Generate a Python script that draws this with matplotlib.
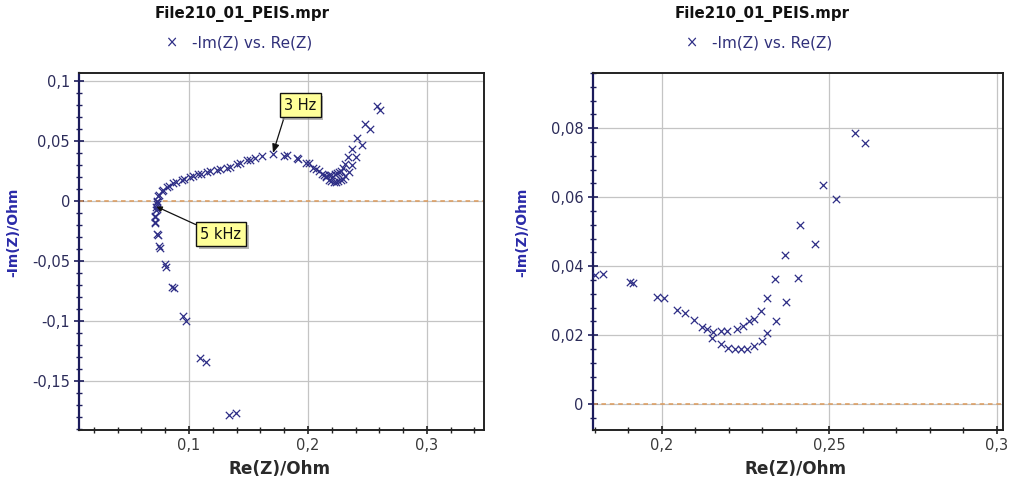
import matplotlib
matplotlib.use("Agg")
import matplotlib.pyplot as plt
from matplotlib.ticker import MultipleLocator, FuncFormatter
import matplotlib.patheffects as pe

# ---- impedance data: Re(Z) / -Im(Z) in Ohm ----
# high-frequency (inductive) tail
re_hf = [0.1395, 0.1339, 0.1143, 0.1092, 0.0972, 0.0952, 0.0874, 0.0857,
         0.0807, 0.0798, 0.0756, 0.0751, 0.0734, 0.0738, 0.0714, 0.0716,
         0.0714, 0.0718, 0.0729, 0.0727, 0.0727, 0.0731]
im_hf = [-0.1767, -0.1781, -0.1340, -0.1312, -0.1005, -0.0963, -0.0731, -0.0720,
         -0.0550, -0.0530, -0.0391, -0.0377, -0.0279, -0.0285, -0.0181, -0.0190,
         -0.0126, -0.0135, -0.0070, -0.0078, -0.0050, -0.0028]

# first arc
re_arc = [0.0729, 0.0735, 0.0742, 0.0750, 0.0770, 0.0785, 0.0813, 0.0830,
          0.0868, 0.0890, 0.0939, 0.0960, 0.1008, 0.1030, 0.1078, 0.1100,
          0.1149, 0.1175, 0.1233, 0.1260, 0.1317, 0.1345, 0.1401, 0.1430,
          0.1485, 0.1510, 0.1555, 0.1611, 0.1703]
im_arc = [-0.0014, 0.0000, 0.0042, 0.0050, 0.0084, 0.0092, 0.0112, 0.0120,
          0.0145, 0.0152, 0.0173, 0.0180, 0.0195, 0.0202, 0.0218, 0.0222,
          0.0237, 0.0243, 0.0257, 0.0262, 0.0274, 0.0282, 0.0302, 0.0312,
          0.0335, 0.0342, 0.0357, 0.0368, 0.0385]

# low-frequency part, upper branch
re_lf1 = [0.1802, 0.1824, 0.1906, 0.1914, 0.1985, 0.2007, 0.2045, 0.2070,
          0.2095, 0.2119, 0.2136, 0.2154, 0.2176, 0.2196, 0.2224, 0.2242,
          0.2260, 0.2277, 0.2297, 0.2315, 0.2337, 0.2369, 0.2414, 0.2481,
          0.2577]
im_lf1 = [0.0375, 0.0377, 0.0353, 0.0350, 0.0311, 0.0309, 0.0272, 0.0264,
          0.0244, 0.0225, 0.0217, 0.0208, 0.0211, 0.0211, 0.0219, 0.0227,
          0.0240, 0.0248, 0.0269, 0.0307, 0.0362, 0.0432, 0.0520, 0.0636,
          0.0786]

# low-frequency part, lower branch
re_lf2 = [0.2151, 0.2176, 0.2198, 0.2218, 0.2238, 0.2256, 0.2277, 0.2299,
          0.2315, 0.2342, 0.2372, 0.2408, 0.2457, 0.2519, 0.2607]
im_lf2 = [0.0193, 0.0174, 0.0162, 0.0159, 0.0159, 0.0161, 0.0169, 0.0183,
          0.0206, 0.0242, 0.0297, 0.0365, 0.0464, 0.0594, 0.0756]

re_z = re_hf + re_arc + re_lf1 + re_lf2
im_z = im_hf + im_arc + im_lf1 + im_lf2

# annotated frequencies: (label, Re, -Im)
note_3hz = ("3 Hz", re_arc[-1], im_arc[-1])
note_5khz = ("5 kHz", re_hf[-2], im_hf[-2])

title_text = "File210_01_PEIS.mpr"
legend_text = "-Im(Z) vs. Re(Z)"
x_label = "Re(Z)/Ohm"
y_label = "-Im(Z)/Ohm"

MARK = "#2e2e86"
NAVY = "#1c1c5c"
LBL = "#2a2aa8"

W, H = 1013, 484
fig = plt.figure(figsize=(W / 100, H / 100), dpi=100)
fig.patch.set_facecolor("white")


def comma(v, pos):
    s = f"{v:.3f}".rstrip("0").rstrip(".")
    if s in ("-0", ""):
        s = "0"
    return s.replace(".", ",")


def style_axes(ax, xlim, ylim, xmaj, xmin, ymaj, ymin):
    ax.set_xlim(*xlim)
    ax.set_ylim(*ylim)
    ax.xaxis.set_major_locator(MultipleLocator(xmaj))
    ax.xaxis.set_minor_locator(MultipleLocator(xmin))
    ax.yaxis.set_major_locator(MultipleLocator(ymaj))
    ax.yaxis.set_minor_locator(MultipleLocator(ymin))
    ax.xaxis.set_major_formatter(FuncFormatter(comma))
    ax.yaxis.set_major_formatter(FuncFormatter(comma))
    ax.grid(True, which="major", color="#c4c4c4", lw=0.9)
    ax.set_axisbelow(True)
    for side in ("top", "right", "bottom"):
        ax.spines[side].set_color("#222222")
        ax.spines[side].set_linewidth(1.4)
    ax.spines["left"].set_color(NAVY)
    ax.spines["left"].set_linewidth(1.6)
    ax.tick_params(axis="x", which="major", direction="inout", length=6,
                   width=1.2, color="#222222", labelsize=10.5,
                   labelcolor="#3a3a3a", pad=3)
    ax.tick_params(axis="x", which="minor", direction="inout", length=4,
                   width=1.0, color="#222222")
    ax.tick_params(axis="y", which="major", direction="inout", length=7,
                   width=1.2, color=NAVY, labelsize=10.5,
                   labelcolor="#2c2c5a", pad=3)
    ax.tick_params(axis="y", which="minor", direction="inout", length=4,
                   width=1.0, color=NAVY)
    ax.axhline(0, color="#dc9a5a", lw=1.1, ls=(0, (3, 2.5)), zorder=1)
    ax.scatter(re_z, im_z, marker="x", s=28, linewidths=0.9, color=MARK,
               zorder=3, clip_on=True)


ax1 = fig.add_axes([79 / W, 1 - 430 / H, 405 / W, 357.3 / H])
style_axes(ax1, (0.0076, 0.348), (-0.191, 0.1065), 0.1, 0.02, 0.05, 0.01)

ax2 = fig.add_axes([592.7 / W, 1 - 430 / H, 410.3 / W, 357.3 / H])
style_axes(ax2, (0.1794, 0.3019), (-0.0075, 0.0961), 0.05, 0.01, 0.02, 0.004)

# frequency call-outs
box = dict(boxstyle="square,pad=0.3", fc="#ffff99", ec="#111111", lw=1.0)
t1 = ax1.annotate(note_3hz[0], xy=(note_3hz[1], note_3hz[2]),
                  xytext=(0.1935, 0.0796), textcoords="data",
                  ha="center", va="center", fontsize=10.5, color="#111111",
                  bbox=box, zorder=6,
                  arrowprops=dict(arrowstyle="-|>,head_length=0.5,head_width=0.2",
                                  color="#111111", lw=0.9,
                                  shrinkA=0, shrinkB=1,
                                  relpos=(0.05, 0.0)))
t2 = ax1.annotate(note_5khz[0], xy=(note_5khz[1], note_5khz[2]),
                  xytext=(0.1269, -0.0280), textcoords="data",
                  ha="center", va="center", fontsize=10.5, color="#111111",
                  bbox=box, zorder=6,
                  arrowprops=dict(arrowstyle="-|>,head_length=0.3,head_width=0.15",
                                  color="#111111", lw=0.9,
                                  shrinkA=0, shrinkB=0,
                                  relpos=(0.0, 1.0)))
for t in (t1, t2):
    t.get_bbox_patch().set_path_effects(
        [pe.SimplePatchShadow(offset=(2, -2), shadow_rgbFace="#9a9a9a", alpha=0.7),
         pe.Normal()])

# headers, legend lines and axis labels
for cx, ax_cx, lab_x in ((242, 281.5, 13), (762, 798, 522)):
    fig.text(cx / W, 1 - 14 / H, title_text, ha="center", va="center",
             fontsize=10.8, fontweight="bold", color="#111111")
    fig.text((cx - 70) / W, 1 - 43 / H, "\u00d7", ha="center", va="center",
             fontsize=10.5, color=MARK)
    fig.text((cx - 50) / W, 1 - 43 / H, legend_text, ha="left", va="center",
             fontsize=11, color="#30307a")
    fig.text(lab_x / W, 1 - 232 / H, y_label, rotation=90, ha="center",
             va="center", fontsize=10, fontweight="bold", color=LBL)
    fig.text((ax_cx - 2) / W, 1 - 469 / H, x_label, ha="center", va="center",
             fontsize=12.2, fontweight="bold", color="#2a2a2a")

fig.savefig("out.png", dpi=100, facecolor="white")
